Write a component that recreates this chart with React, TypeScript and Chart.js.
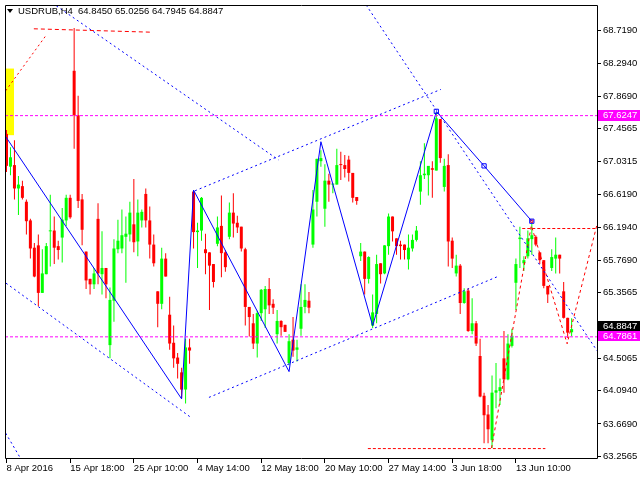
import React, { useEffect, useRef } from "react";
import { Chart, registerables } from "chart.js";

Chart.register(...registerables);

// ---- Candles (H4 bars, index 0..142) ----
const opens = [
  67.39, 66.97, 66.99, 66.69, 66.72, 66.52, 66.28, 65.93, 65.96, 65.35,
  65.59, 66.14, 66.15, 65.95, 66.06, 66.28, 66.57, 68.2, 67.63, 66.55,
  65.88, 65.53, 65.46, 66.3, 65.59, 65.67, 64.68, 65.25, 65.91, 65.92,
  66.07, 66.1, 66.23, 66.01, 66.28, 66.62, 66.28, 65.97, 65.37, 65.21,
  65.79, 65.07, 64.71, 64.52, 64.33, 64.11, 64.65, 66.65, 66.13, 66.15,
  65.91, 65.87, 65.72, 65.98, 66.21, 65.87, 66.07, 66.38, 66.25, 66.2,
  65.91, 65.17, 64.96, 64.7, 65.09, 65.14, 65.4, 65.21, 64.82, 64.99,
  64.94, 64.45, 64.75, 64.62, 64.89, 65.17, 65.25, 65.97, 66.52, 67.04,
  66.43, 66.79, 66.74, 66.74, 67.0, 66.99, 67.06, 66.89, 66.58, 65.82,
  65.88, 65.53, 64.93, 65.08, 65.73, 65.6, 65.95, 66.33, 66.05, 65.97,
  65.97, 65.78, 65.92, 66.03, 66.65, 66.86, 66.86, 66.95, 66.92, 67.58,
  66.71, 66.99, 66.02, 65.6, 65.7, 65.22, 65.38, 64.86, 64.96, 64.54,
  64.03, 63.79, 63.46, 64.07, 64.09, 64.51, 64.24, 64.67, 65.48, 66.04,
  65.73, 65.82, 66.04, 66.07, 65.87, 65.77, 65.44, 65.67, 65.79, 65.84,
  65.37, 65.03, 64.845
];
const highs = [
  67.44, 67.22, 67.31, 66.85, 66.79, 66.55, 66.3, 65.99, 66.1, 65.91,
  65.99, 66.61, 66.33, 66.02, 66.44, 66.61, 66.61, 68.75, 67.88, 66.62,
  65.88, 65.53, 65.67, 66.5, 66.14, 65.67, 65.42, 66.04, 66.29, 66.42,
  66.33, 66.52, 66.81, 66.55, 66.42, 66.69, 66.46, 66.1, 65.37, 65.93,
  65.86, 65.3, 64.93, 64.58, 64.39, 64.76, 64.76, 66.67, 66.25, 66.58,
  66.11, 65.87, 65.72, 66.33, 66.6, 65.9, 66.51, 66.63, 66.34, 66.2,
  65.93, 65.17, 65.08, 65.12, 65.4, 65.44, 65.54, 65.27, 65.13, 65.0,
  64.94, 64.82, 65.04, 64.75, 65.46, 65.46, 65.36, 66.67, 67.07, 67.18,
  67.0, 66.88, 66.75, 67.2, 67.16, 67.12, 67.11, 66.89, 66.58, 65.99,
  65.88, 65.82, 65.33, 65.84, 65.73, 65.96, 66.37, 66.33, 66.05, 66.02,
  65.97, 66.1, 66.1, 66.21, 67.04, 67.27, 66.98, 67.04, 67.67, 67.58,
  67.07, 67.13, 66.06, 65.84, 65.72, 65.41, 65.41, 65.28, 64.99, 64.76,
  64.07, 63.91, 64.29, 64.45, 64.25, 64.86, 64.82, 64.89, 65.79, 66.2,
  65.82, 66.15, 66.24, 66.09, 65.87, 65.77, 65.44, 65.91, 66.06, 65.84,
  65.49, 65.03, 65.0256
];
const lows = [
  66.9, 66.86, 66.55, 66.35, 66.55, 66.1, 65.79, 65.55, 65.18, 65.35,
  65.59, 65.69, 65.72, 65.78, 65.74, 66.21, 66.3, 67.2, 66.44, 65.96,
  65.4, 65.33, 65.4, 65.46, 65.33, 65.28, 64.51, 64.98, 65.86, 65.86,
  65.48, 66.01, 65.87, 65.82, 66.19, 66.19, 65.79, 65.69, 64.91, 65.14,
  65.56, 64.62, 64.39, 64.25, 64.0, 63.93, 64.44, 65.92, 65.67, 66.02,
  65.59, 65.13, 65.42, 65.95, 65.55, 65.62, 66.04, 66.06, 66.12, 65.88,
  64.93, 64.79, 64.63, 64.52, 64.99, 64.9, 65.08, 65.08, 64.7, 64.8,
  64.85, 64.42, 64.53, 64.47, 64.8, 65.09, 65.09, 65.93, 66.33, 66.97,
  66.2, 66.52, 66.63, 66.74, 66.8, 66.83, 66.78, 66.51, 66.48, 65.76,
  65.33, 65.47, 64.9, 64.96, 65.47, 65.59, 65.84, 66.01, 65.84, 65.78,
  65.78, 65.65, 65.88, 66.01, 66.48, 66.81, 66.6, 66.57, 66.92, 67.02,
  66.65, 65.69, 65.67, 65.56, 65.08, 65.21, 64.85, 64.82, 64.67, 64.01,
  63.42, 63.42, 63.36, 63.87, 63.91, 64.07, 64.23, 64.65, 65.13, 65.67,
  65.63, 65.79, 65.84, 65.95, 65.72, 65.41, 65.22, 65.63, 65.6, 65.6,
  65.02, 64.77, 64.7945
];
const closes = [
  66.98, 67.09, 66.69, 66.74, 66.57, 66.27, 65.92, 65.56, 65.35, 65.6,
  65.95, 66.15, 65.93, 65.9, 66.29, 66.57, 66.32, 67.63, 66.53, 66.16,
  65.51, 65.46, 65.6, 65.6, 65.67, 65.46, 65.26, 65.92, 66.02, 66.09,
  66.11, 66.38, 66.0, 66.38, 66.39, 66.28, 65.97, 65.73, 65.21, 65.79,
  65.56, 64.7, 64.51, 64.44, 64.11, 64.65, 64.61, 66.13, 66.15, 66.57,
  65.86, 65.7, 65.49, 66.19, 65.86, 65.68, 66.38, 66.24, 66.19, 65.92,
  65.17, 65.04, 64.7, 65.09, 65.39, 65.4, 65.19, 65.16, 64.99, 64.91,
  64.85, 64.73, 64.61, 64.65, 65.17, 65.26, 65.16, 66.42, 67.07, 67.08,
  66.79, 66.74, 66.75, 66.99, 66.99, 66.94, 66.89, 66.57, 66.53, 65.88,
  65.53, 65.81, 65.1, 65.72, 65.59, 65.96, 66.33, 66.14, 65.95, 65.95,
  65.9, 65.93, 66.03, 66.15, 66.86, 66.88, 66.98, 66.93, 67.59, 67.08,
  66.98, 66.01, 65.79, 65.7, 65.22, 65.37, 64.86, 64.96, 64.7, 64.02,
  63.78, 63.6, 64.07, 64.1, 64.14, 64.24, 64.7, 64.8, 65.72, 66.06,
  65.77, 66.05, 66.09, 65.97, 65.77, 65.44, 65.33, 65.81, 65.84, 65.79,
  65.03, 64.84, 64.8847
];

// ---- Axes ----
const yTickValues = [68.719, 68.294, 67.869, 67.4565, 67.0315, 66.619, 66.194, 65.769, 65.3565, 64.9315, 64.5065, 64.094, 63.669, 63.2565];
const xTickBars = [0, 16, 32, 48, 64, 80, 96, 112, 128];
const xTickLabels = ["8 Apr 2016", "15 Apr 18:00", "25 Apr 10:00", "4 May 14:00", "12 May 18:00", "20 May 10:00", "27 May 14:00", "3 Jun 18:00", "13 Jun 10:00"];

// ---- Header / price marks ----
const symbolText = "USDRUB,H4";
const ohlcText = "64.8450 65.0256 64.7945 64.8847";
const lastPrice = 64.8847;
const levelHigh = 67.6247;
const levelLow = 64.7861;

// ---- Drawn objects: [barIndex, price] ----
const zigzag = [[-0.125, 67.35], [44, 63.99], [47, 66.67], [71, 64.34], [79, 67.29], [92, 64.93], [108, 67.67]];
const anchorLine = [[108, 67.68], [120, 66.98], [132, 66.27]];
const chanTopDesc = [[11.5, 69.07], [68.375, 67.056]];
const chanBotDesc = [[-0.125, 65.475], [46.625, 63.741]];
const chanCorner = [[-0.2, 63.55], [3.625, 63.218]];
const chanTopAsc = [[47.375, 66.661], [109.125, 67.961]];
const chanBotAsc = [[50.875, 64.009], [123.625, 65.564]];
const longDesc = [[90.375, 69.044], [148.375, 64.608]];
const redTopDash = [[6.875, 68.739], [36.125, 68.696]];
const redTopDot = [[-0.2, 67.944], [9.8, 68.645]];
const redMidDash = [[129.6, 66.176], [148.375, 66.176]];
const redBotDash = [[90.8, 63.352], [135.4, 63.352]];
const redForecast = [[121.875, 63.359], [131.875, 66.214], [140.875, 64.697], [148.375, 66.227]];
const yellowBox = [0.875, 67.374, 68.229];

const FONT = "'Liberation Sans', Arial, sans-serif";
const GREEN = "#00ff00";
const RED = "#ff0000";
const BLUE = "#0000ff";
const MAGENTA = "#ff00ff";

const pts = (arr: number[][]) => arr.map(([x, y]) => ({ x, y }));

const lineDs = (arr: number[][], color: string, dash: number[]) => ({
  type: "line" as const,
  data: pts(arr),
  borderColor: color,
  borderWidth: 1,
  borderDash: dash,
  pointRadius: 0,
  fill: false,
  tension: 0,
  order: 0,
});

const mtPlugin = {
  id: "mtDecor",
  beforeDraw(chart: any) {
    const { ctx } = chart;
    ctx.save();
    ctx.fillStyle = "#ffffff";
    ctx.fillRect(0, 0, chart.width, chart.height);
    ctx.restore();
  },
  afterDraw(chart: any) {
    const { ctx, chartArea: ca } = chart;
    const y = chart.scales.y;
    ctx.save();
    // frame
    ctx.strokeStyle = "#000";
    ctx.lineWidth = 1;
    ctx.setLineDash([]);
    ctx.beginPath();
    ctx.moveTo(ca.left + 0.5, ca.bottom - 0.5);
    ctx.lineTo(ca.left + 0.5, ca.top + 0.5);
    ctx.lineTo(ca.right + 0.5, ca.top + 0.5);
    ctx.lineTo(ca.right + 0.5, ca.bottom - 0.5);
    ctx.lineTo(ca.left + 0.5, ca.bottom - 0.5);
    ctx.stroke();

    // header
    ctx.fillStyle = "#000";
    ctx.beginPath();
    ctx.moveTo(7, 9);
    ctx.lineTo(13, 9);
    ctx.lineTo(10, 13);
    ctx.closePath();
    ctx.fill();
    ctx.font = `9.5px ${FONT}`;
    ctx.textBaseline = "alphabetic";
    ctx.textAlign = "left";
    ctx.fillText(symbolText, 18, 14);
    ctx.fillText(ohlcText, 78, 14);

    // price boxes on the axis
    const box = (val: number, bg: string, topOff: number, h: number) => {
      const py = Math.round(y.getPixelForValue(val));
      ctx.fillStyle = bg;
      ctx.fillRect(ca.right + 1, py - topOff, chart.width - ca.right - 1, h);
      ctx.fillStyle = "#fff";
      ctx.textBaseline = "middle";
      ctx.fillText(val.toFixed(4), ca.right + 6, py - topOff + h / 2);
    };
    box(levelHigh, MAGENTA, 6, 11);
    box(lastPrice, "#000", 8, 10);
    box(levelLow, MAGENTA, 6, 10);
    ctx.restore();
  },
};

export default function App() {
  const ref = useRef<HTMLCanvasElement | null>(null);
  useEffect(() => {
    if (!ref.current) return;
    const n = opens.length;
    const idx = Array.from({ length: n }, (_, i) => i);
    const colors = idx.map((i) => (closes[i] >= opens[i] ? GREEN : RED));
    const chart = new Chart(ref.current, {
      type: "bar",
      data: {
        datasets: [
          {
            type: "bar",
            data: [{ x: yellowBox[0], y: [yellowBox[1], yellowBox[2]] }] as any,
            backgroundColor: "#ffff00",
            barThickness: 8,
            grouped: false,
            inflateAmount: 0,
            borderWidth: 0,
            order: 10,
          } as any,
          {
            type: "bar",
            data: idx.map((i) => ({ x: i, y: [lows[i], highs[i]] })) as any,
            backgroundColor: colors,
            barThickness: 1,
            grouped: false,
            inflateAmount: 0,
            borderWidth: 0,
            order: 3,
          } as any,
          {
            type: "bar",
            data: idx.map((i) => ({ x: i, y: [opens[i], closes[i]] })) as any,
            backgroundColor: colors,
            barThickness: 3,
            grouped: false,
            inflateAmount: 0,
            minBarLength: 1,
            borderWidth: 0,
            order: 2,
          } as any,
          lineDs([[-0.375, levelHigh], [148.375, levelHigh]], MAGENTA, [3, 2]) as any,
          lineDs([[-0.375, levelLow], [148.375, levelLow]], MAGENTA, [3, 2]) as any,
          lineDs(chanTopDesc, BLUE, [2, 3]) as any,
          lineDs(chanBotDesc, BLUE, [2, 3]) as any,
          lineDs(chanCorner, BLUE, [2, 3]) as any,
          lineDs(chanTopAsc, BLUE, [2, 3]) as any,
          lineDs(chanBotAsc, BLUE, [2, 3]) as any,
          lineDs(longDesc, BLUE, [2, 3]) as any,
          lineDs(zigzag, BLUE, []) as any,
          lineDs(anchorLine, BLUE, []) as any,
          lineDs(redTopDash, RED, [4, 3]) as any,
          lineDs(redTopDot, RED, [2, 3]) as any,
          lineDs(redMidDash, RED, [3, 2]) as any,
          lineDs(redBotDash, RED, [3, 2]) as any,
          lineDs(redForecast, RED, [3, 3]) as any,
          {
            type: "line",
            data: pts(anchorLine),
            showLine: false,
            pointStyle: "rect",
            pointRadius: 3,
            pointBorderWidth: 1,
            pointBorderColor: BLUE,
            pointBackgroundColor: "rgba(0,0,0,0)",
            order: 0,
          } as any,
          {
            type: "line",
            data: pts([anchorLine[2]]),
            showLine: false,
            pointStyle: "rect",
            pointRadius: 1.6,
            pointBorderWidth: 1,
            pointBorderColor: RED,
            pointBackgroundColor: "rgba(0,0,0,0)",
            order: 0,
          } as any,
        ],
      },
      options: {
        responsive: false,
        animation: false,
        devicePixelRatio: 1,
        events: [],
        layout: { padding: { left: 2, top: 2, right: 0, bottom: 0 } },
        plugins: { legend: { display: false }, tooltip: { enabled: false } },
        scales: {
          x: {
            type: "linear",
            position: "bottom",
            min: -0.375,
            max: 148.375,
            offset: false,
            grid: { display: true, drawOnChartArea: false, drawTicks: true, tickLength: 4, color: "#000", offset: false },
            border: { display: false },
            ticks: {
              autoSkip: false,
              maxRotation: 0,
              minRotation: 0,
              align: "start",
              padding: 0,
              color: "#000",
              font: { family: FONT, size: 9.5 },
              callback: (_v: any, i: number) => xTickLabels[i],
            },
            afterBuildTicks: (s: any) => {
              s.ticks = xTickBars.map((v) => ({ value: v }));
            },
            afterFit: (s: any) => {
              s.height = 21;
              s.paddingLeft = 0;
              s.paddingRight = 0;
            },
          },
          y: {
            type: "linear",
            position: "right",
            min: 63.2184,
            max: 69.0445,
            grid: { display: true, drawOnChartArea: false, drawTicks: true, tickLength: 4, color: "#000" },
            border: { display: false },
            ticks: {
              autoSkip: false,
              padding: 2,
              color: "#000",
              font: { family: FONT, size: 9.5 },
              callback: (v: any) => Number(v).toFixed(4),
            },
            afterBuildTicks: (s: any) => {
              s.ticks = yTickValues.map((v) => ({ value: v }));
            },
            afterFit: (s: any) => {
              s.width = 43;
              s.paddingTop = 0;
              s.paddingBottom = 0;
            },
          },
        },
      } as any,
      plugins: [mtPlugin],
    });
    return () => chart.destroy();
  }, []);

  return (
    <div style={{ position: "fixed", left: 0, top: 0, width: 640, height: 480, background: "#fff" }}>
      <canvas ref={ref} width={640} height={480} style={{ display: "block", width: 640, height: 480 }} />
    </div>
  );
}
